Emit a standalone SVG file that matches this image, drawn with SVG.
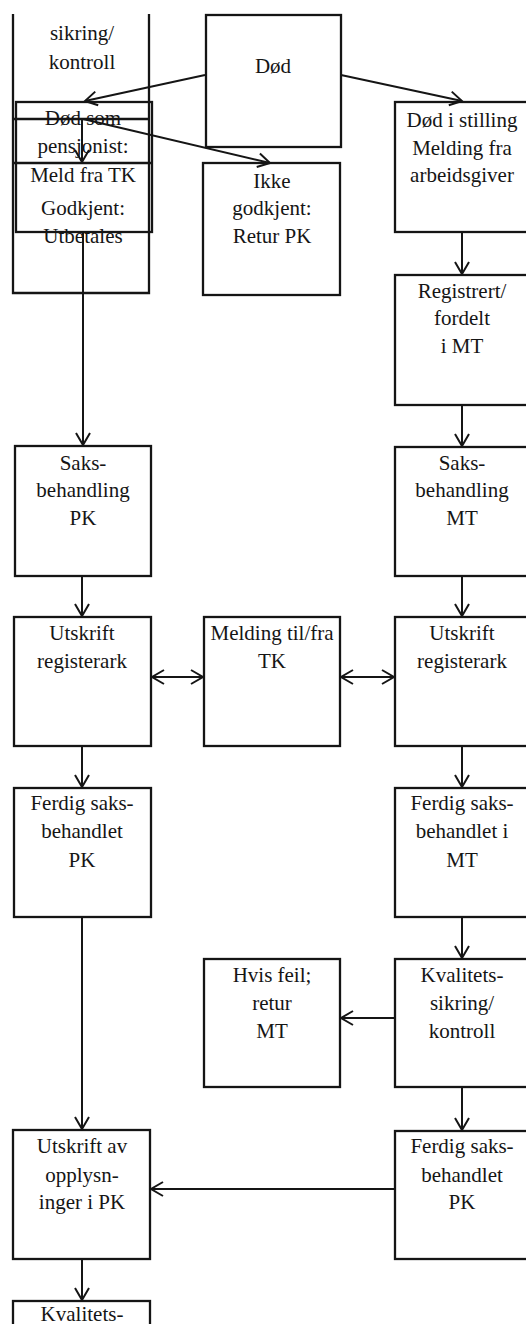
<svg xmlns="http://www.w3.org/2000/svg" width="526" height="1324" viewBox="0 0 526 1324">
<style>
.b{fill:none;stroke:#151515;stroke-width:2.3}
.c{fill:none;stroke:#151515;stroke-width:2}
text{font-family:"Liberation Serif","Times New Roman","DejaVu Serif",serif;font-size:21px;fill:#151515;text-anchor:middle}
</style>
<defs>
<marker id="ah" viewBox="-14 -10 16 20" refX="0" refY="0" markerWidth="16" markerHeight="20" markerUnits="userSpaceOnUse" orient="auto-start-reverse">
<path d="M-12,-7 L0,0 L-12,7" fill="none" stroke="#151515" stroke-width="2"/>
</marker>
</defs>
<rect width="526" height="1324" fill="#fff"/>
<g id="n-top-left">
<path class="b" d="M13,14 V293 H149 V14"/>
<rect class="b" x="16" y="102" width="136" height="130"/>
<line class="b" x1="13" y1="119" x2="149" y2="119"/>
<line class="b" x1="13" y1="163" x2="152" y2="163"/>
<text x="82" y="40">sikring/</text>
<text x="82" y="69">kontroll</text>
<text x="83" y="125">Død som</text>
<text x="83" y="153">pensjonist:</text>
<text x="83" y="182">Meld fra TK</text>
<text x="83" y="215">Godkjent:</text>
<text x="83" y="243">Utbetales</text>
</g>
<g id="n-dod">
<rect class="b" x="206" y="15" width="135" height="132"/>
<text x="273" y="73">Død</text>
</g>
<g id="n-ikke">
<rect class="b" x="203" y="163" width="137" height="132"/>
<text x="272" y="188">Ikke</text>
<text x="272" y="215">godkjent:</text>
<text x="272" y="243">Retur PK</text>
</g>
<g id="n-stilling">
<rect class="b" x="395" y="102" width="140" height="130"/>
<text x="462" y="127">Død i stilling</text>
<text x="462" y="155">Melding fra</text>
<text x="462" y="182">arbeidsgiver</text>
</g>
<g id="n-registrert">
<rect class="b" x="395" y="275" width="140" height="130"/>
<text x="462" y="298">Registrert/</text>
<text x="462" y="325">fordelt</text>
<text x="462" y="353">i MT</text>
</g>
<g id="n-saks-pk">
<rect class="b" x="15" y="446" width="136" height="130"/>
<text x="83" y="470">Saks-</text>
<text x="83" y="497">behandling</text>
<text x="83" y="525">PK</text>
</g>
<g id="n-saks-mt">
<rect class="b" x="395" y="447" width="140" height="129"/>
<text x="462" y="470">Saks-</text>
<text x="462" y="497">behandling</text>
<text x="462" y="525">MT</text>
</g>
<g id="n-utskrift-l">
<rect class="b" x="14" y="617" width="137" height="129"/>
<text x="82" y="640">Utskrift</text>
<text x="82" y="668">registerark</text>
</g>
<g id="n-melding">
<rect class="b" x="204" y="617" width="136" height="129"/>
<text x="272" y="640">Melding til/fra</text>
<text x="272" y="668">TK</text>
</g>
<g id="n-utskrift-r">
<rect class="b" x="395" y="617" width="140" height="129"/>
<text x="462" y="640">Utskrift</text>
<text x="462" y="668">registerark</text>
</g>
<g id="n-ferdig-l">
<rect class="b" x="14" y="788" width="137" height="129"/>
<text x="82" y="810">Ferdig saks-</text>
<text x="82" y="838">behandlet</text>
<text x="82" y="867">PK</text>
</g>
<g id="n-ferdig-r">
<rect class="b" x="395" y="788" width="140" height="129"/>
<text x="462" y="810">Ferdig saks-</text>
<text x="462" y="838">behandlet i</text>
<text x="462" y="867">MT</text>
</g>
<g id="n-hvis">
<rect class="b" x="204" y="959" width="136" height="128"/>
<text x="272" y="982">Hvis feil;</text>
<text x="272" y="1010">retur</text>
<text x="272" y="1038">MT</text>
</g>
<g id="n-kval-r">
<rect class="b" x="395" y="959" width="140" height="128"/>
<text x="462" y="982">Kvalitets-</text>
<text x="462" y="1010">sikring/</text>
<text x="462" y="1038">kontroll</text>
</g>
<g id="n-ferdig-pk-r">
<rect class="b" x="395" y="1131" width="140" height="128"/>
<text x="462" y="1153">Ferdig saks-</text>
<text x="462" y="1182">behandlet</text>
<text x="462" y="1209">PK</text>
</g>
<g id="n-utskrift-av">
<rect class="b" x="13" y="1130" width="137" height="129"/>
<text x="82" y="1153">Utskrift av</text>
<text x="82" y="1182">opplysn-</text>
<text x="82" y="1209">inger i PK</text>
</g>
<g id="n-kval-l">
<rect class="b" x="13" y="1301" width="137" height="40"/>
<text x="82" y="1321">Kvalitets-</text>
</g>
<g id="connectors">
<line class="c" x1="205" y1="75" x2="85" y2="101" marker-end="url(#ah)"/>
<line class="c" x1="341" y1="75" x2="462" y2="101" marker-end="url(#ah)"/>
<line class="c" x1="83" y1="119" x2="270" y2="163" marker-end="url(#ah)"/>
<line class="c" x1="82" y1="119" x2="82" y2="162" marker-end="url(#ah)"/>
<line class="c" x1="83" y1="232" x2="83" y2="445" marker-end="url(#ah)"/>
<line class="c" x1="462" y1="232" x2="462" y2="274" marker-end="url(#ah)"/>
<line class="c" x1="462" y1="405" x2="462" y2="446" marker-end="url(#ah)"/>
<line class="c" x1="82" y1="576" x2="82" y2="616" marker-end="url(#ah)"/>
<line class="c" x1="462" y1="576" x2="462" y2="616" marker-end="url(#ah)"/>
<line class="c" x1="152" y1="677" x2="203" y2="677" marker-start="url(#ah)" marker-end="url(#ah)"/>
<line class="c" x1="341" y1="677" x2="394" y2="677" marker-start="url(#ah)" marker-end="url(#ah)"/>
<line class="c" x1="82" y1="746" x2="82" y2="787" marker-end="url(#ah)"/>
<line class="c" x1="462" y1="746" x2="462" y2="787" marker-end="url(#ah)"/>
<line class="c" x1="462" y1="917" x2="462" y2="958" marker-end="url(#ah)"/>
<line class="c" x1="395" y1="1018" x2="341" y2="1018" marker-end="url(#ah)"/>
<line class="c" x1="462" y1="1087" x2="462" y2="1130" marker-end="url(#ah)"/>
<line class="c" x1="82" y1="917" x2="82" y2="1129" marker-end="url(#ah)"/>
<line class="c" x1="395" y1="1189" x2="151" y2="1189" marker-end="url(#ah)"/>
<line class="c" x1="82" y1="1259" x2="82" y2="1300" marker-end="url(#ah)"/>
</g>
</svg>
